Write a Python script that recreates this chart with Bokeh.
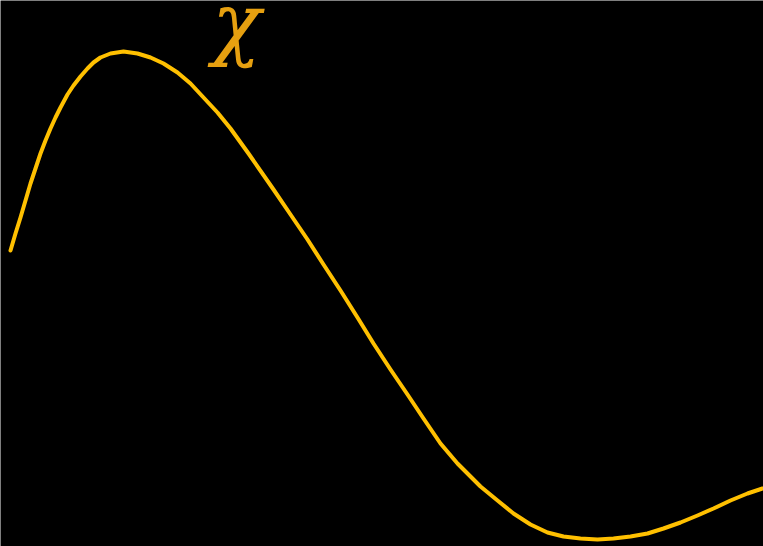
from bokeh.plotting import figure
from bokeh.models import Range1d
from bokeh.embed import file_html
from bokeh.resources import INLINE
from bokeh.core.properties import value

xs = [10, 15, 20, 25, 30, 35, 40, 45, 50, 55, 60, 67, 73, 80, 87, 93, 100, 110, 123,
      137, 150, 163, 177, 190, 203, 217, 230, 248, 273, 290, 307, 323, 340, 357, 373,
      390, 407, 423, 440, 457, 473, 480, 497, 513, 530, 547, 563, 580, 597, 613, 630,
      647, 663, 680, 697, 713, 730, 747, 762]
py = [250, 233, 217, 200, 183, 168, 153, 140, 128, 117, 107, 94, 85, 76, 68, 62, 57, 53, 51,
      53, 57, 63, 72, 83, 97, 112, 128, 153, 189, 214, 239, 264, 290, 317, 343,
      369, 394, 418, 443, 463, 479, 486, 500, 513, 524, 532, 536, 538, 539, 538, 536,
      533, 528, 522, 515, 508, 500, 493, 488]
ys = [546 - v for v in py]

label_text = ["χ"]
label_x = [236]
label_y = [546 - 22]

p = figure(width=763, height=546, output_backend="svg", toolbar_location=None,
           x_range=Range1d(0, 763), y_range=Range1d(0, 546), min_border=0,
           background_fill_color="black", border_fill_color="black")
p.outline_line_color = None
p.axis.visible = False
p.grid.visible = False

p.line(xs, ys, line_color="#ffc000", line_width=4, line_join="round", line_cap="round")
p.text(x=label_x, y=label_y, text=label_text, text_color="#e6a010",
       text_font=value("DejaVu Serif"), text_font_style="italic",
       text_font_size="80px", text_align="center", text_baseline="middle")

html = file_html(p, INLINE)
html = html.replace("<body>", '<body style="background:black;">', 1)
open("out.html", "w").write(html)
